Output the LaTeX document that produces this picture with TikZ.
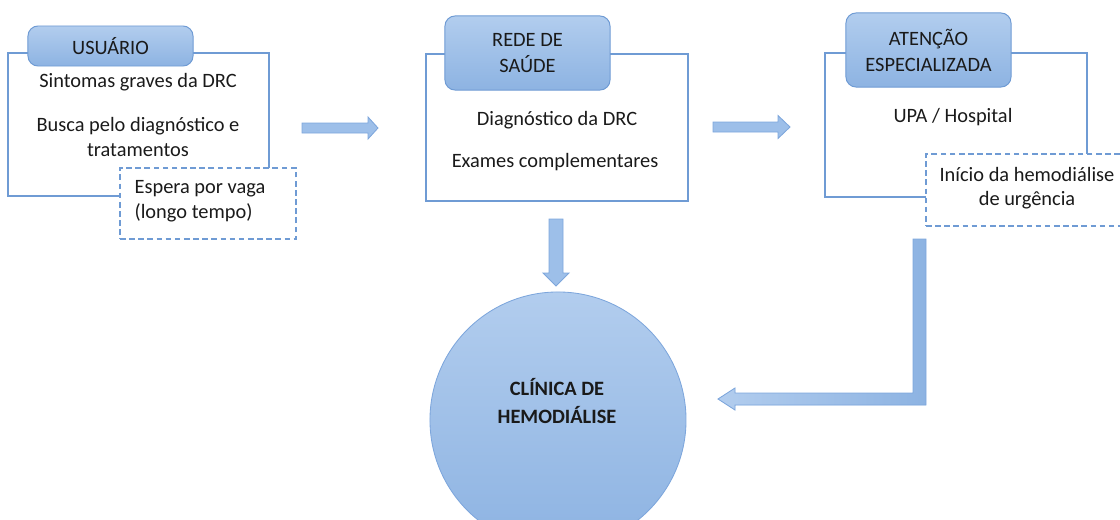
\documentclass[tikz,border=0pt]{standalone}
\usepackage{fontspec}
\setmainfont{Carlito}
\usetikzlibrary{positioning,calc}
\definecolor{boxline}{HTML}{6F9BD4}
\definecolor{headtop}{HTML}{B2CDEE}
\definecolor{headbot}{HTML}{8DB3E2}
\definecolor{arrfill}{HTML}{9DBFE9}
\definecolor{arrline}{HTML}{7DA6DC}
\definecolor{txtcol}{HTML}{1A1A1A}

\begin{document}
\begin{tikzpicture}[
    x=0.025cm, y=-0.025cm,
    every node/.style={font=\fontsize{14.5}{17.5}\selectfont, text=txtcol},
    outerbox/.style={rectangle, draw=boxline, line width=0.8pt, inner sep=0pt},
    headbox/.style={rectangle, rounded corners=0.25cm, draw=boxline, line width=0.7pt, top color=headtop, bottom color=headbot, minimum width=4.125cm, inner sep=0pt, align=center, font=\fontsize{14.5}{18.5}\selectfont},
    notebox/.style={rectangle, draw=boxline, dash pattern=on 4pt off 2.5pt, fill=white, line width=0.8pt, inner sep=0pt},
    boxtext/.style={align=center, inner sep=0pt},
    blockarrow/.style={fill=arrfill, draw=arrline, line width=0.6pt, line join=miter}
]
    \useasboundingbox (0,0) rectangle (1120,520);

    % usuario
    \node[outerbox, minimum width=6.525cm, minimum height=3.575cm] (usuario) at (138.5,124.5) {};
    \node[headbox, minimum height=1cm] (usuariohead) at (110.5,46) {USUÁRIO};
    \node[boxtext] (sintomas) at (138,82) {Sintomas graves da DRC};
    \node[boxtext] (busca) at (138,137) {Busca pelo diagnóstico e\\tratamentos};
    \node[notebox, minimum width=4.4cm, minimum height=1.775cm] (espera) at (208,203.5) {};
    \node[boxtext, align=left] (esperatext) at (200,201) {Espera por vaga\\(longo tempo)};

    % rede de saude
    \node[outerbox, minimum width=6.55cm, minimum height=3.675cm] (rede) at (557,127.5) {};
    \node[headbox, minimum height=1.85cm] (redehead) at (527.5,53) {REDE DE\\SAÚDE};
    \node[boxtext] (diagnostico) at (557,120) {Diagnóstico da DRC};
    \node[boxtext] (exames) at (555,162) {Exames complementares};

    % atencao especializada
    \node[outerbox, minimum width=6.55cm, minimum height=3.6cm] (atencao) at (956,125) {};
    \node[headbox, minimum height=1.85cm] (atencaohead) at (928.5,50) {ATENÇÃO\\ESPECIALIZADA};
    \node[boxtext] (upa) at (953,117) {UPA / Hospital};
    \node[notebox, minimum width=4.95cm, minimum height=1.8cm] (inicio) at (1025,190) {};
    \node[boxtext] (iniciotext) at (1027,188) {Início da hemodiálise\\de urgência};

    % clinica
    \node[circle, draw=arrline, line width=0.6pt, top color=headtop, bottom color=headbot, minimum size=6.4cm, inner sep=0pt] (clinica) at (558,420) {};
    \node[boxtext, font=\fontsize{14.5}{20}\selectfont\bfseries] (clinicatext) at (557,401) {CLÍNICA DE\\HEMODIÁLISE};

    % arrows
    \coordinate (a1) at (302,128);
    \coordinate (a2) at (713,127);
    \coordinate (a3) at (556,219);
    \coordinate (a4) at (913,239);
    \draw[blockarrow] (a1) ++(0,-5) -- ++(66,0) -- ++(0,-6) -- ++(10,11) -- ++(-10,11) -- ++(0,-6) -- ++(-66,0) -- cycle;
    \draw[blockarrow] (a2) ++(0,-5) -- ++(65,0) -- ++(0,-6.5) -- ++(12,11.5) -- ++(-12,11.5) -- ++(0,-6.5) -- ++(-65,0) -- cycle;
    \draw[blockarrow] (a3) ++(-7,0) -- ++(14,0) -- ++(0,54) -- ++(6,0) -- ++(-13,13) -- ++(-13,-13) -- ++(6,0) -- cycle;
    \draw[blockarrow, left color=headtop, right color=headbot] (a4) -- ++(13,0) -- ++(0,166) -- ++(-191,0) -- ++(0,5) -- ++(-17,-11) -- ++(17,-11) -- ++(0,5) -- ++(178,0) -- cycle;
\end{tikzpicture}
\end{document}
